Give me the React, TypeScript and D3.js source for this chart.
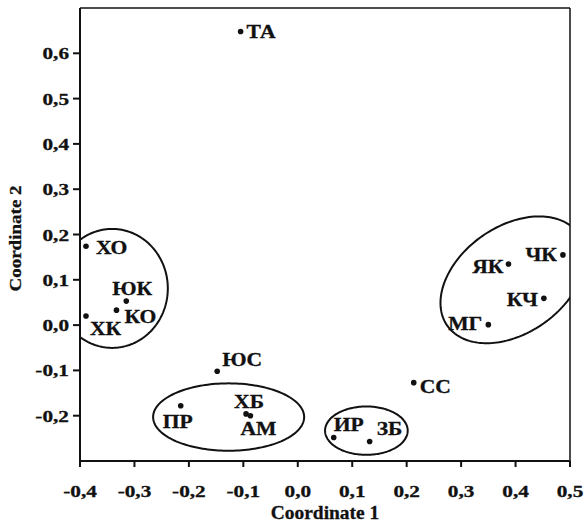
import React from "react";
import * as d3 from "d3";

// ---- data ----
const names = ["ТА", "ХО", "ЮК", "КО", "ХК", "ЮС", "ПР", "ХБ", "АМ", "ИР", "ЗБ", "СС", "ЯК", "ЧК", "КЧ", "МГ"];
const coord1 = [-0.105, -0.389, -0.315, -0.333, -0.389, -0.148, -0.215, -0.095, -0.087, 0.066, 0.132, 0.213, 0.387, 0.487, 0.452, 0.35];
const coord2 = [0.648, 0.174, 0.053, 0.033, 0.02, -0.102, -0.178, -0.196, -0.2, -0.248, -0.257, -0.127, 0.135, 0.155, 0.059, 0.001];
const xTicks = [-0.4, -0.3, -0.2, -0.1, 0.0, 0.1, 0.2, 0.3, 0.4, 0.5];
const yTicks = [-0.2, -0.1, 0.0, 0.1, 0.2, 0.3, 0.4, 0.5, 0.6];
const xTitle = "Coordinate 1";
const yTitle = "Coordinate 2";

// group ellipses: centre in data units, semi-axes in data units, rotation (deg)
const groupCx = [-0.341, -0.127, 0.126, 0.395];
const groupCy = [0.081, -0.203, -0.233, 0.1];
const groupRx = [0.1023, 0.1387, 0.0759, 0.147];
const groupRy = [0.1313, 0.0744, 0.0534, 0.098];
const groupRot = [0, 0, 0, -35];

// label layout (pixel offsets, anchor)
const labelDx = [6, 10, -14, 8, 4, 5, -18, -12, -10, 0, 7, 6, -5, -6, -6, -6];
const labelDy = [6, 8, -6, 13, 19, -5, 22, -6, 19, -6, -7, 10, 9, 6, 8, 5];
const labelAnchor = ["start", "start", "start", "start", "start", "start", "start", "start", "start", "start", "start", "start", "end", "end", "end", "end"];

const W = 584, H = 523;
const L = 80, R = 570, T = 8, B = 461;
const FONT = "'Liberation Serif', 'Times New Roman', serif";
const INK = "#111";

function SText(props: { x: number; y: number; sx?: number; rot?: number; size: number; anchor?: string; children: any }) {
  const { x, y, sx = 1.2, rot = 0, size, anchor = "start", children } = props;
  return (
    <text
      transform={`translate(${x},${y}) rotate(${rot}) scale(${sx},1)`}
      textAnchor={anchor as any}
      fontSize={size}
      fontWeight="bold"
      fill={INK}
      stroke={INK}
      strokeWidth={0.3}
    >
      {children}
    </text>
  );
}

export default function App() {
  const x = d3.scaleLinear().domain([-0.4, 0.5]).range([L, R]);
  const y = d3.scaleLinear().domain([-0.3, 0.7]).range([B, T]);
  const fmt = (v: number) => d3.format(".1f")(v).replace(".", ",").replace("−", "-");
  const pxPerX = x(1) - x(0);
  const pxPerY = y(0) - y(1);

  const ellipsePath = (i: number) => {
    const cx = x(groupCx[i]);
    const cy = y(groupCy[i]);
    const a = groupRx[i] * pxPerX;
    const b = groupRy[i] * (groupRot[i] === 0 ? pxPerY : pxPerX);
    const th = (groupRot[i] * Math.PI) / 180;
    const pts: [number, number][] = d3.range(0, 361, 2).map((deg) => {
      const t = (deg * Math.PI) / 180;
      const ex = a * Math.cos(t);
      const ey = b * Math.sin(t);
      return [cx + ex * Math.cos(th) - ey * Math.sin(th), cy + ex * Math.sin(th) + ey * Math.cos(th)];
    });
    return d3.line()(pts) + "Z";
  };

  return (
    <svg width={W} height={H} style={{ position: "absolute", left: 0, top: 0, background: "#fff" }} fontFamily={FONT}>
      <rect x={0} y={0} width={W} height={H} fill="#fff" />
      {/* ellipses, clipped to the plot area by a nested viewport */}
      <svg x={L} y={T} width={R - L} height={B - T} overflow="hidden">
        <g transform={`translate(${-L},${-T})`}>
          {groupCx.map((_, i) => (
            <path key={"e" + i} d={ellipsePath(i)} fill="none" stroke={INK} strokeWidth={2} />
          ))}
        </g>
      </svg>
      {/* frame */}
      <line x1={L} x2={R} y1={T} y2={T} stroke={INK} strokeWidth={1.5} />
      <line x1={R} x2={R} y1={T} y2={B} stroke={INK} strokeWidth={1.5} />
      <line x1={L} x2={L} y1={T} y2={B + 6} stroke={INK} strokeWidth={2} />
      <line x1={L} x2={R} y1={B} y2={B} stroke={INK} strokeWidth={2} />
      {/* x ticks */}
      {xTicks.map((t) => (
        <g key={"x" + t}>
          <line x1={x(t)} x2={x(t)} y1={B} y2={B + 6} stroke={INK} strokeWidth={2} />
          <SText x={x(t)} y={B + 36} size={17} sx={1.25} anchor="middle">
            {fmt(t)}
          </SText>
        </g>
      ))}
      {/* y ticks */}
      {yTicks.map((t) => (
        <g key={"y" + t}>
          <line x1={L - 7} x2={L} y1={y(t)} y2={y(t)} stroke={INK} strokeWidth={2} />
          <SText x={L - 11} y={y(t) + 6} size={17} sx={1.25} anchor="end">
            {fmt(t)}
          </SText>
        </g>
      ))}
      <SText x={(L + R) / 2} y={519} size={18} sx={1.08} anchor="middle">
        {xTitle}
      </SText>
      <SText x={21} y={(T + B) / 2 + 4} size={17} sx={1.12} rot={-90} anchor="middle">
        {yTitle}
      </SText>
      {/* points */}
      {names.map((n, i) => (
        <g key={n}>
          <circle cx={x(coord1[i])} cy={y(coord2[i])} r={2.8} fill={INK} />
          <SText x={x(coord1[i]) + labelDx[i]} y={y(coord2[i]) + labelDy[i]} size={18} sx={1.2} anchor={labelAnchor[i]}>
            {n}
          </SText>
        </g>
      ))}
    </svg>
  );
}
